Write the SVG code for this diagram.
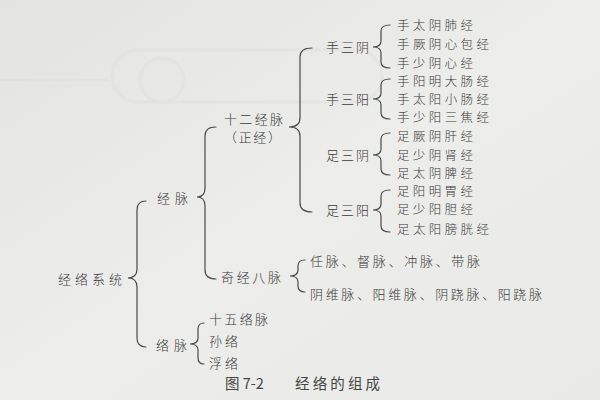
<svg xmlns="http://www.w3.org/2000/svg" width="600" height="400" viewBox="0 0 600 400">
<defs>
<linearGradient id="bg" x1="0" y1="0" x2="1" y2="1">
<stop offset="0" stop-color="#e3e3e1"/>
<stop offset="0.5" stop-color="#ededeb"/>
<stop offset="1" stop-color="#e9e9e7"/>
</linearGradient>
<style>
text{font-family:"Noto Sans CJK SC","Noto Sans",sans-serif;fill:#3a3a3a;font-size:13px;font-weight:300}
.l{font-size:12.5px}
.b{fill:none;stroke:#4a4a4a;stroke-width:1.2;stroke-linecap:round}
.cap{fill:#454545;font-size:14.5px;font-weight:400}
</style>
</defs>
<rect width="600" height="400" fill="url(#bg)"/>
<g fill="none" stroke="#e0e0de" stroke-width="3" opacity="0.5">
<rect x="112" y="50" width="270" height="52" rx="26"/>
<circle cx="162" cy="80" r="22"/>
</g>
<line x1="0" y1="80" x2="108" y2="80" stroke="#dcdcda" stroke-width="1"/>

<g id="connectors">
<path class="b" d="M146,201 Q137,201 137,210 L137,269 Q137,278 128,278 Q137,278 137,287 L137,338 Q137,347 146,347"/>
<path class="b" d="M216,127 Q205,127 205,136 L205,188 Q205,197 197,197 Q205,197 205,206 L205,270 Q205,279 216,279"/>
<path class="b" d="M312,48 Q300,48 300,57 L300,118 Q300,127 289,127 Q300,127 300,136 L300,203 Q300,212 312,212"/>
<path class="b" d="M305,260 Q298,260 298,266 L298,270 Q298,276 290,276 Q298,276 298,282 L298,286 Q298,292 305,292"/>
<path class="b" d="M204,323 Q198,323 198,329 L198,338 Q198,344 190,344 Q198,344 198,350 L198,358 Q198,364 204,364"/>
<path class="b" d="M390,25 Q381,25 381,31 L381,41 Q381,47 373,47 Q381,47 381,53 L381,62 Q381,68 390,68"/>
<path class="b" d="M390,79 Q381,79 381,85 L381,93 Q381,99 373,99 Q381,99 381,105 L381,113 Q381,119 390,119"/>
<path class="b" d="M390,133 Q381,133 381,139 L381,149 Q381,155 373,155 Q381,155 381,161 L381,169 Q381,175 390,175"/>
<path class="b" d="M390,190 Q381,190 381,196 L381,204 Q381,210 373,210 Q381,210 381,216 L381,226 Q381,232 390,232"/>
</g>

<g id="root"><text x="58" y="284" textLength="64" font-size="14.5">经络系统</text></g>
<g id="jingmai"><text x="157" y="203" textLength="31">经脉</text></g>
<g id="shier"><text x="224" y="124" textLength="59">十二经脉</text><text x="224" y="142" textLength="57" font-size="12">（正经）</text></g>
<g id="qijing"><text x="221" y="282" textLength="60">奇经八脉</text></g>
<g id="luomai"><text x="156" y="350" textLength="31">络脉</text></g>

<g id="shousanyin"><text x="326" y="52" textLength="43">手三阴</text></g>
<g id="shousanyang"><text x="326" y="104" textLength="43">手三阳</text></g>
<g id="zusanyin"><text x="326" y="160" textLength="43">足三阴</text></g>
<g id="zusanyang"><text x="326" y="215" textLength="43">足三阳</text></g>

<g id="leaf1"><text class="l" x="397" y="30" textLength="76">手太阴肺经</text></g>
<g id="leaf2"><text class="l" x="397" y="49" textLength="92">手厥阴心包经</text></g>
<g id="leaf3"><text class="l" x="397" y="68" textLength="76">手少阴心经</text></g>
<g id="leaf4"><text class="l" x="397" y="86" textLength="92">手阳明大肠经</text></g>
<g id="leaf5"><text class="l" x="397" y="104" textLength="92">手太阳小肠经</text></g>
<g id="leaf6"><text class="l" x="397" y="122" textLength="92">手少阳三焦经</text></g>
<g id="leaf7"><text class="l" x="397" y="141" textLength="76">足厥阴肝经</text></g>
<g id="leaf8"><text class="l" x="397" y="160" textLength="76">足少阴肾经</text></g>
<g id="leaf9"><text class="l" x="397" y="178" textLength="76">足太阴脾经</text></g>
<g id="leaf10"><text class="l" x="397" y="196" textLength="76">足阳明胃经</text></g>
<g id="leaf11"><text class="l" x="397" y="214" textLength="76">足少阳胆经</text></g>
<g id="leaf12"><text class="l" x="397" y="234" textLength="92">足太阳膀胱经</text></g>

<g id="qi1"><text x="310" y="266" textLength="170">任脉、督脉、冲脉、带脉</text></g>
<g id="qi2"><text x="310" y="299" textLength="232">阴维脉、阳维脉、阴跷脉、阳跷脉</text></g>

<g id="luo1"><text x="209" y="324" textLength="59">十五络脉</text></g>
<g id="luo2"><text x="209" y="346" textLength="29">孙络</text></g>
<g id="luo3"><text x="209" y="368" textLength="29">浮络</text></g>

<g id="caption"><text class="cap" x="225" y="389">图 7-2</text><text class="cap" x="295" y="389" textLength="85">经络的组成</text></g>
</svg>
